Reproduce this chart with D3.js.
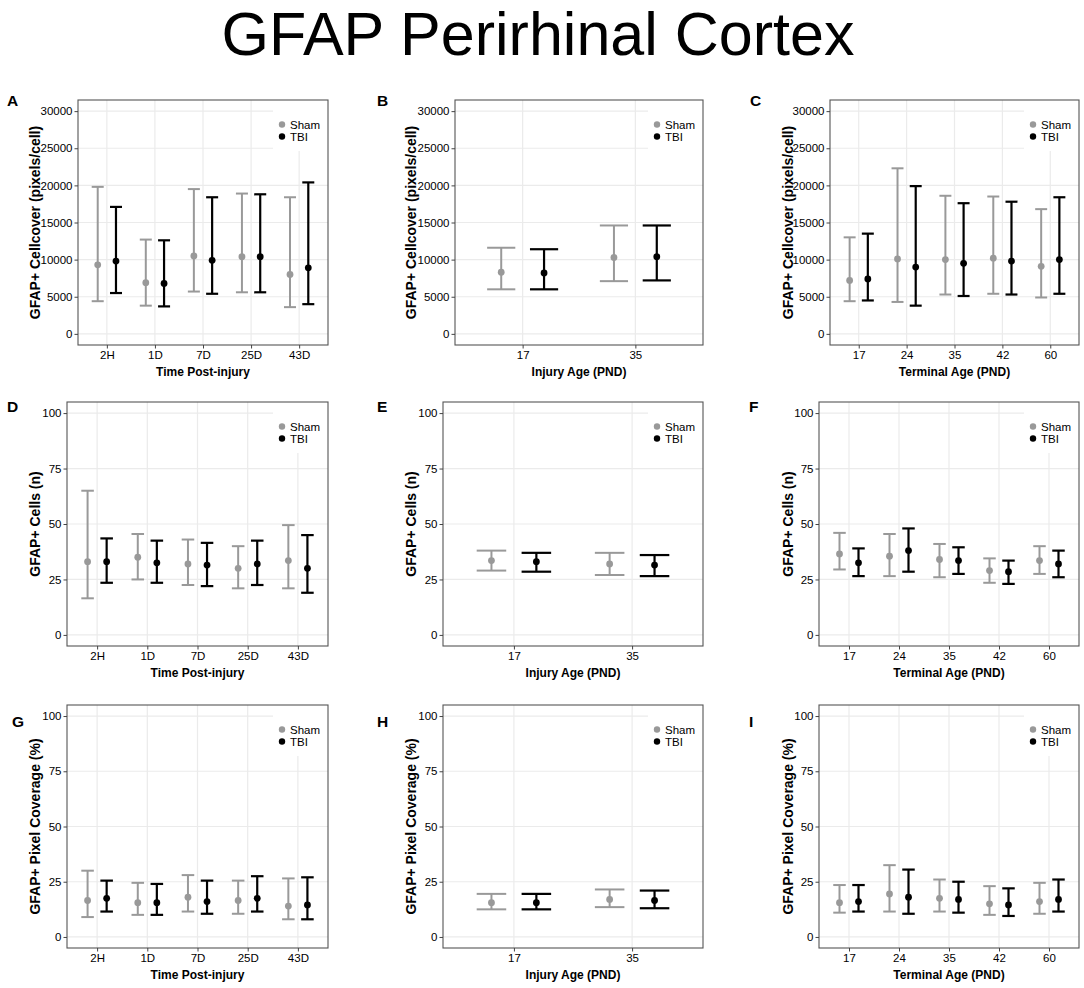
<!DOCTYPE html>
<html>
<head>
<meta charset="utf-8">
<script src="https://cdn.jsdelivr.net/npm/d3@7"></script>
<style>
  body { margin: 0; background: #fff; }
  svg { display: block; font-family: "Liberation Sans", Arial, Helvetica, sans-serif; }
</style>
</head>
<body>
<div class="chart"></div>
<script>
// categories
var timeCats = ["2H", "1D", "7D", "25D", "43D"];
var injuryCats = ["17", "35"];
var terminalCats = ["17", "24", "35", "42", "60"];
var groups = ["Sham", "TBI"];

// y tick labels
var cellcoverTicks = [0, 5000, 10000, 15000, 20000, 25000, 30000];
var percentTicks = [0, 25, 50, 75, 100];

// values as [lower, mean, upper]
// A: cellcover by time post-injury
var cellcoverTimeSham = [[4400, 9300, 19800], [3800, 6900, 12700], [5700, 10500, 19500], [5600, 10400, 18900], [3600, 8000, 18400]];
var cellcoverTimeTbi = [[5500, 9800, 17100], [3700, 6800, 12600], [5400, 9900, 18400], [5600, 10400, 18800], [4000, 8900, 20400]];
// B: cellcover by injury age
var cellcoverInjurySham = [[6000, 8300, 11600], [7100, 10300, 14600]];
var cellcoverInjuryTbi = [[6000, 8200, 11400], [7200, 10400, 14600]];
// C: cellcover by terminal age
var cellcoverTerminalSham = [[4400, 7200, 13000], [4300, 10100, 22300], [5300, 10000, 18600], [5400, 10200, 18500], [4900, 9100, 16800]];
var cellcoverTerminalTbi = [[4500, 7400, 13500], [3800, 9000, 19900], [5100, 9500, 17600], [5300, 9800, 17800], [5400, 10000, 18400]];
// D: cells by time post-injury
var cellsTimeSham = [[16.5, 33, 65], [25, 35, 45.5], [22.5, 32, 43], [21, 30, 40], [21, 33.5, 49.5]];
var cellsTimeTbi = [[23.5, 33, 43.5], [23.5, 32.5, 42.5], [22, 31.5, 41.5], [22.5, 32, 42.5], [19, 30, 45]];
// E: cells by injury age
var cellsInjurySham = [[29, 33.5, 38], [27, 32, 37]];
var cellsInjuryTbi = [[28.5, 33, 37], [26.5, 31.5, 36]];
// F: cells by terminal age
var cellsTerminalSham = [[29.5, 36.5, 46], [26.5, 35.5, 45.5], [26, 34, 41], [23.5, 29, 34.5], [27.5, 33.5, 40]];
var cellsTerminalTbi = [[26.5, 32.5, 39], [28.5, 38, 48], [27.5, 33.5, 39.5], [23, 28.5, 33.5], [26, 32, 38]];
// G: pixel coverage by time post-injury
var coverageTimeSham = [[9, 16.5, 30], [10, 15.5, 24.5], [11.5, 18, 28], [10.5, 16.5, 25.5], [8, 14, 26.5]];
var coverageTimeTbi = [[11.5, 17.5, 25.5], [10, 15.5, 24], [10.5, 16, 25.5], [11.5, 17.5, 27.5], [8, 14.5, 27]];
// H: pixel coverage by injury age
var coverageInjurySham = [[12.5, 15.5, 19.5], [13.5, 17, 21.5]];
var coverageInjuryTbi = [[12.5, 15.5, 19.5], [13, 16.5, 21]];
// I: pixel coverage by terminal age
var coverageTerminalSham = [[11, 15.5, 23.5], [11.5, 19.5, 32.5], [11.5, 17.5, 26], [10, 15, 23], [10.5, 16, 24.5]];
var coverageTerminalTbi = [[11.5, 16, 23.5], [10.5, 18, 30.5], [11, 17, 25], [9.5, 14.5, 22], [11.5, 17, 26]];

var svgWidth = 1084;
var svgHeight = 988;

var svg = d3.select(".chart")
  .append("svg")
  .attr("width", svgWidth)
  .attr("height", svgHeight);

// big title
svg.append("text")
  .attr("x", 538)
  .attr("y", 55)
  .attr("text-anchor", "middle")
  .attr("font-size", "61px")
  .attr("fill", "#000")
  .text("GFAP Perirhinal Cortex");

// panel grid positions
var plotRight = [328, 703, 1079];
var plotLeft = [[78, 455, 830], [67, 443, 819], [67, 443, 819]];
var plotTop = [100, 402, 705];
var plotBottom = [345, 646, 948];
var yTitleX = [35.5, 411, 788];
var letterX = [[7, 377, 750], [7, 377, 749], [12, 377, 749]];
var letterY = [106, 412, 727];

var xTitles = ["Time Post-injury", "Injury Age (PND)", "Terminal Age (PND)"];
var yTitles = ["GFAP+ Cellcover (pixels/cell)", "GFAP+ Cells (n)", "GFAP+ Pixel Coverage (%)"];
var colCats = [timeCats, injuryCats, terminalCats];

var panels = [
  { letter: "A", row: 0, col: 0, sham: cellcoverTimeSham, tbi: cellcoverTimeTbi, ticks: cellcoverTicks },
  { letter: "B", row: 0, col: 1, sham: cellcoverInjurySham, tbi: cellcoverInjuryTbi, ticks: cellcoverTicks },
  { letter: "C", row: 0, col: 2, sham: cellcoverTerminalSham, tbi: cellcoverTerminalTbi, ticks: cellcoverTicks },
  { letter: "D", row: 1, col: 0, sham: cellsTimeSham, tbi: cellsTimeTbi, ticks: percentTicks },
  { letter: "E", row: 1, col: 1, sham: cellsInjurySham, tbi: cellsInjuryTbi, ticks: percentTicks },
  { letter: "F", row: 1, col: 2, sham: cellsTerminalSham, tbi: cellsTerminalTbi, ticks: percentTicks },
  { letter: "G", row: 2, col: 0, sham: coverageTimeSham, tbi: coverageTimeTbi, ticks: percentTicks },
  { letter: "H", row: 2, col: 1, sham: coverageInjurySham, tbi: coverageInjuryTbi, ticks: percentTicks },
  { letter: "I", row: 2, col: 2, sham: coverageTerminalSham, tbi: coverageTerminalTbi, ticks: percentTicks }
];

var colors = { Sham: "#999999", TBI: "#000000" };
var dodge = 0.19;
var capHalf = 0.125;

panels.forEach(function (p) {
  var cats = colCats[p.col];
  var left = plotLeft[p.row][p.col];
  var right = plotRight[p.col];
  var top = plotTop[p.row];
  var bottom = plotBottom[p.row];
  var yMax = d3.max(p.ticks);

  var xScale = d3.scaleLinear()
    .domain([0.4, cats.length + 0.6])
    .range([left, right]);

  var yScale = d3.scaleLinear()
    .domain([-0.05 * yMax, 1.05 * yMax])
    .range([bottom, top]);

  var g = svg.append("g");

  // grid
  g.selectAll(".hgrid")
    .data(p.ticks)
    .enter()
    .append("line")
    .attr("x1", left)
    .attr("x2", right)
    .attr("y1", d => yScale(d))
    .attr("y2", d => yScale(d))
    .attr("stroke", "#ebebeb")
    .attr("stroke-width", 1.2);

  g.selectAll(".vgrid")
    .data(d3.range(1, cats.length + 1))
    .enter()
    .append("line")
    .attr("x1", d => xScale(d))
    .attr("x2", d => xScale(d))
    .attr("y1", top)
    .attr("y2", bottom)
    .attr("stroke", "#ebebeb")
    .attr("stroke-width", 1.2);

  // legend background hides the grid
  var legLeft = right - 55;
  g.append("rect")
    .attr("x", legLeft)
    .attr("y", top)
    .attr("width", 55)
    .attr("height", 51)
    .attr("fill", "#fff");

  // panel border
  g.append("rect")
    .attr("x", left)
    .attr("y", top)
    .attr("width", right - left)
    .attr("height", bottom - top)
    .attr("fill", "none")
    .attr("stroke", "#555")
    .attr("stroke-width", 1.1);

  // axes
  var bottomAxis = d3.axisBottom(xScale)
    .tickValues(d3.range(1, cats.length + 1))
    .tickFormat(d => cats[d - 1])
    .tickSize(3.5)
    .tickPadding(2.5);

  var leftAxis = d3.axisLeft(yScale)
    .tickValues(p.ticks)
    .tickFormat(d3.format("d"))
    .tickSize(3.5)
    .tickPadding(2);

  var xg = g.append("g")
    .attr("transform", `translate(0, ${bottom})`)
    .call(bottomAxis);
  var yg = g.append("g")
    .attr("transform", `translate(${left}, 0)`)
    .call(leftAxis);

  [xg, yg].forEach(function (ax) {
    ax.select(".domain").remove();
    ax.selectAll(".tick line").attr("stroke", "#444");
    ax.selectAll(".tick text")
      .attr("font-family", "Liberation Sans, Arial, sans-serif")
      .attr("font-size", "11.5px")
      .attr("fill", "#000");
  });

  // error bars
  var series = [
    { name: "Sham", values: p.sham, off: -dodge, width: 2 },
    { name: "TBI", values: p.tbi, off: dodge, width: 2.2 }
  ];

  series.forEach(function (s) {
    var bars = g.append("g")
      .selectAll("g")
      .data(s.values)
      .enter()
      .append("g")
      .attr("stroke", colors[s.name])
      .attr("stroke-width", s.width);

    bars.append("line")
      .attr("x1", (d, i) => xScale(i + 1 + s.off))
      .attr("x2", (d, i) => xScale(i + 1 + s.off))
      .attr("y1", d => yScale(d[0]))
      .attr("y2", d => yScale(d[2]));

    bars.append("line")
      .attr("x1", (d, i) => xScale(i + 1 + s.off - capHalf))
      .attr("x2", (d, i) => xScale(i + 1 + s.off + capHalf))
      .attr("y1", d => yScale(d[0]))
      .attr("y2", d => yScale(d[0]));

    bars.append("line")
      .attr("x1", (d, i) => xScale(i + 1 + s.off - capHalf))
      .attr("x2", (d, i) => xScale(i + 1 + s.off + capHalf))
      .attr("y1", d => yScale(d[2]))
      .attr("y2", d => yScale(d[2]));

    g.append("g")
      .selectAll("circle")
      .data(s.values)
      .enter()
      .append("circle")
      .attr("cx", (d, i) => xScale(i + 1 + s.off))
      .attr("cy", d => yScale(d[1]))
      .attr("r", 3.4)
      .attr("fill", colors[s.name]);
  });

  // legend
  groups.forEach(function (name, i) {
    g.append("circle")
      .attr("cx", legLeft + 9)
      .attr("cy", top + 24.5 + i * 12)
      .attr("r", 3.2)
      .attr("fill", colors[name]);
    g.append("text")
      .attr("x", legLeft + 17)
      .attr("y", top + 24.5 + i * 12)
      .attr("dy", "0.36em")
      .attr("font-size", "11.5px")
      .attr("fill", "#000")
      .text(name);
  });

  // axis titles
  g.append("text")
    .attr("x", (left + right) / 2)
    .attr("y", bottom + 31)
    .attr("text-anchor", "middle")
    .attr("font-size", "12px")
    .attr("font-weight", "bold")
    .attr("fill", "#000")
    .text(xTitles[p.col]);

  g.append("text")
    .attr("transform", `translate(${yTitleX[p.col]}, ${(top + bottom) / 2}) rotate(-90)`)
    .attr("dy", "0.35em")
    .attr("text-anchor", "middle")
    .attr("font-size", "14px")
    .attr("font-weight", "bold")
    .attr("fill", "#000")
    .text(yTitles[p.row]);

  // panel letter
  svg.append("text")
    .attr("x", letterX[p.row][p.col])
    .attr("y", letterY[p.row])
    .attr("font-size", "15.5px")
    .attr("font-weight", "bold")
    .attr("fill", "#000")
    .text(p.letter);
});
</script>
</body>
</html>
